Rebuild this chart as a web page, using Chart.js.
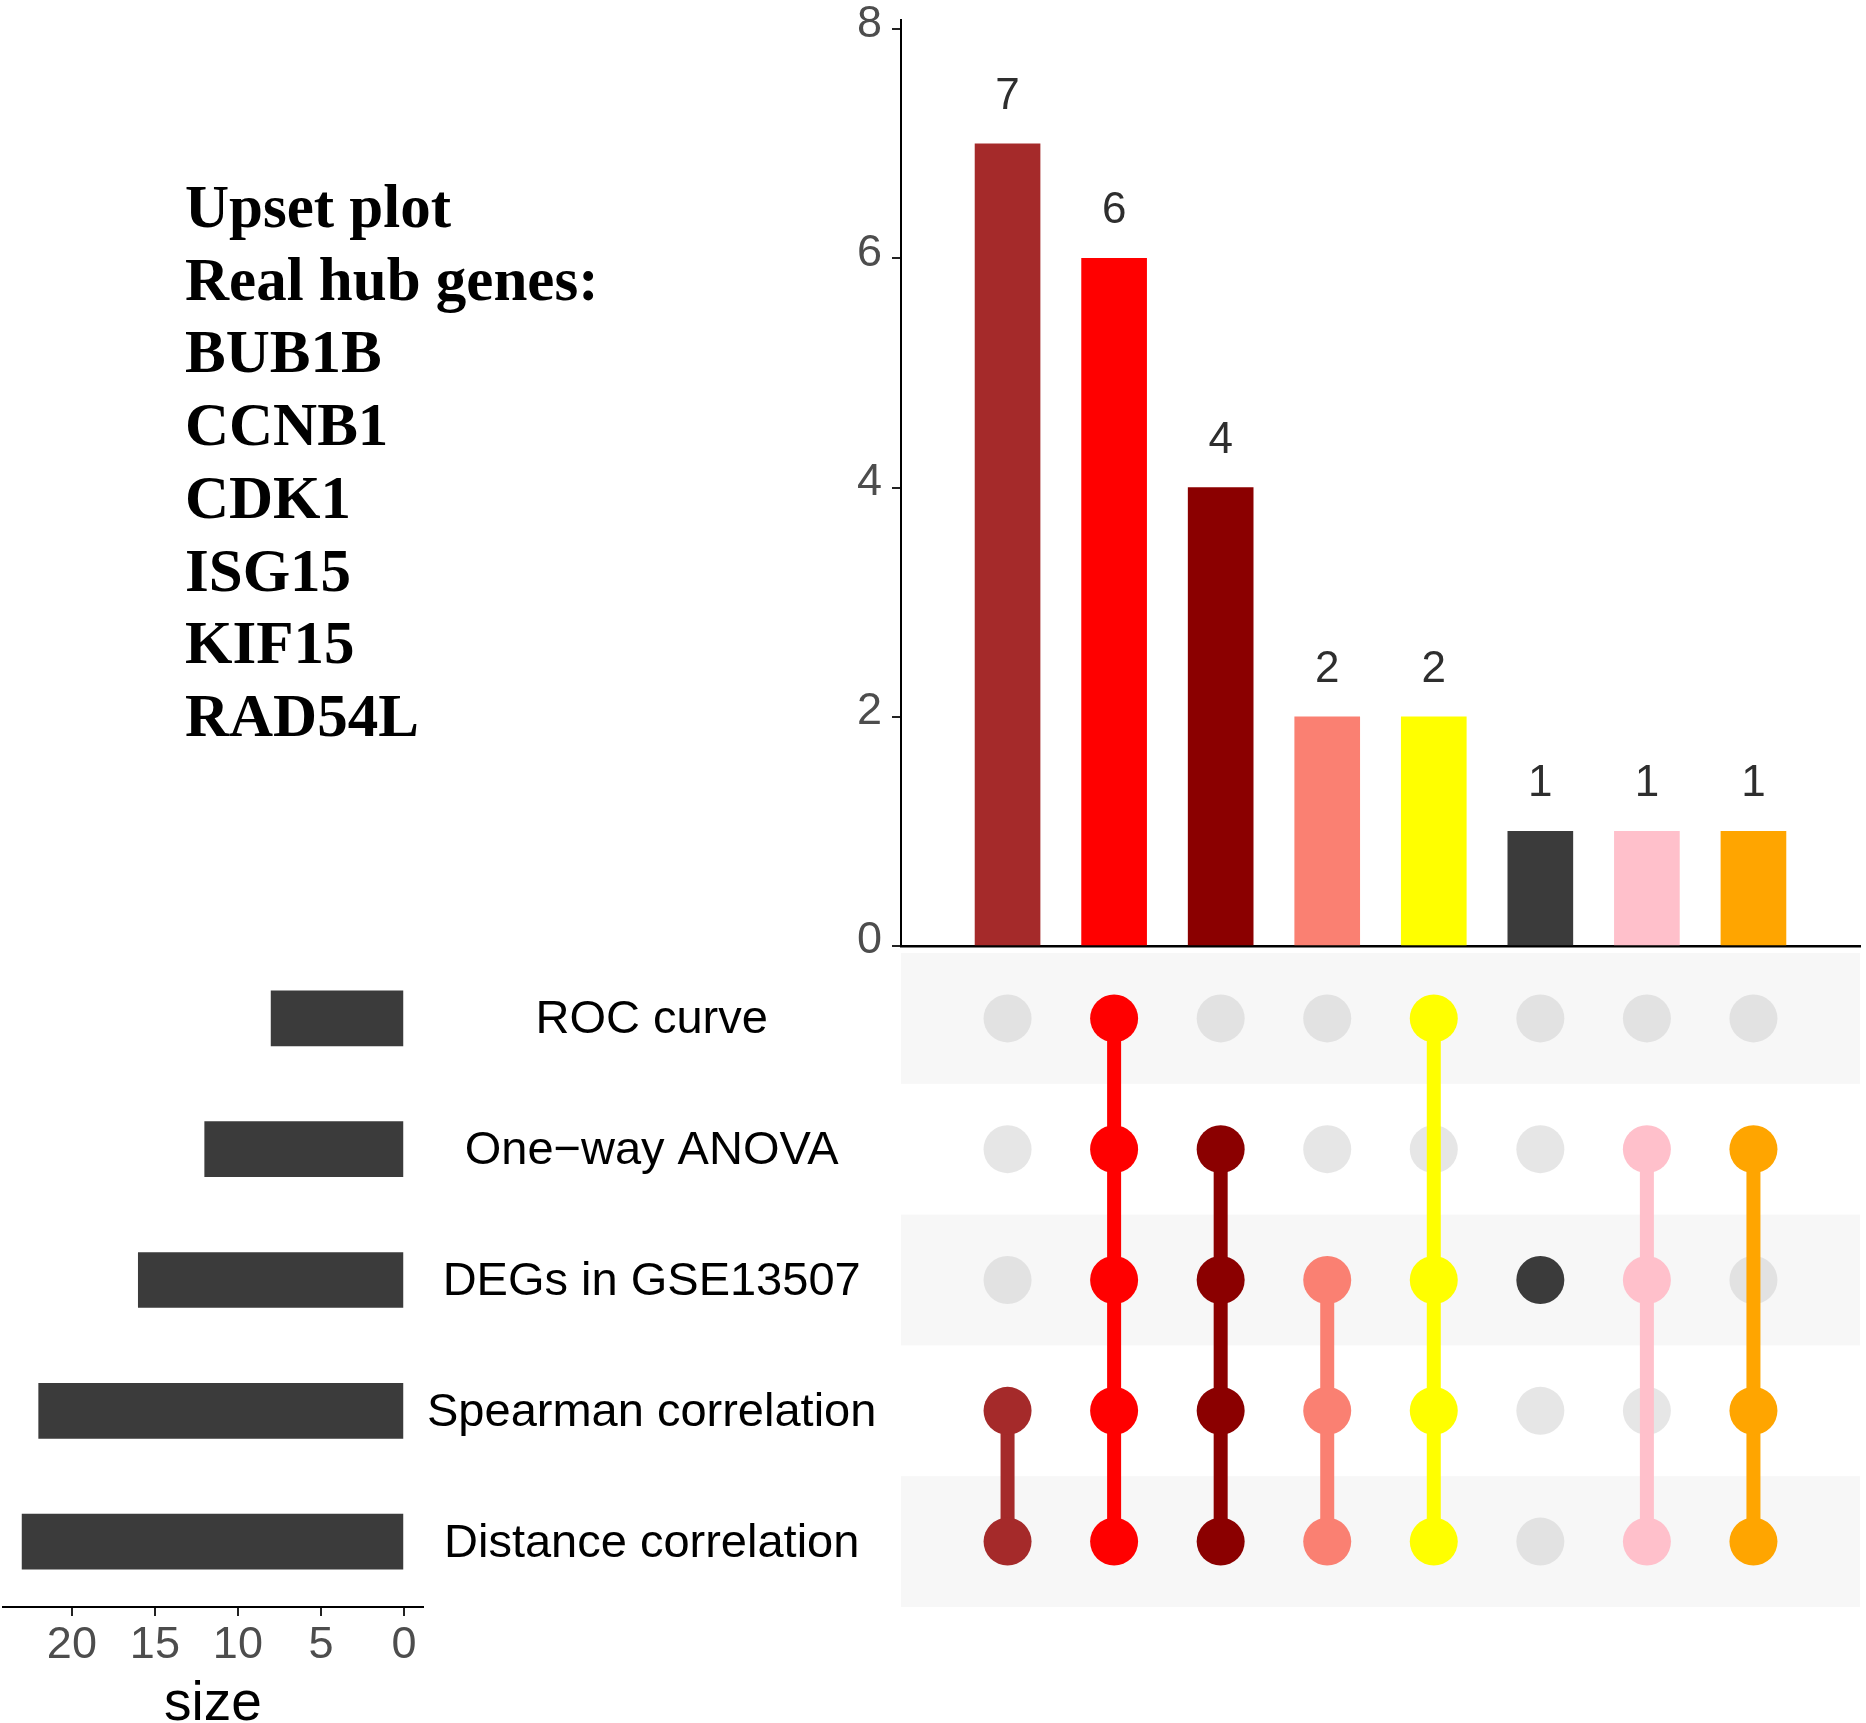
<!DOCTYPE html>
<html>
<head>
<meta charset="utf-8">
<title>Upset plot</title>
<script src="https://cdn.jsdelivr.net/npm/chart.js@4.4.1/dist/chart.umd.min.js"></script>
<style>
  html, body {
    margin: 0;
    padding: 0;
    background: #ffffff;
  }
  body {
    position: relative;
    width: 1866px;
    height: 1723px;
    overflow: hidden;
  }
  canvas {
    position: absolute;
  }
  #barChart { left: 800px; top: -17px; }
  #matrixChart { left: 800px; top: 900px; }
  #setChart { left: 0px; top: 900px; }
  #note {
    position: absolute;
    left: 185px;
    top: 171px;
    font-family: "Liberation Serif", "Times New Roman", serif;
    font-weight: bold;
    font-size: 61px;
    line-height: 72.7px;
    color: #000000;
    white-space: nowrap;
  }
</style>
</head>
<body>
<div id="note"></div>
<canvas id="setChart" width="900" height="860"></canvas>
<canvas id="matrixChart" width="1066" height="760"></canvas>
<canvas id="barChart" width="1066" height="1000"></canvas>
<script>
const setNames = ["ROC curve", "One\u2212way ANOVA", "DEGs in GSE13507", "Spearman correlation", "Distance correlation"];
const setSizes = [8, 12, 16, 22, 23];

const intersectionSizes = [7, 6, 4, 2, 2, 1, 1, 1];
const intersectionColors = ["#a52a2a", "#ff0000", "#8b0000", "#fa8072", "#ffff00", "#3b3b3b", "#ffc0cb", "#ffa500"];
// row indexes into setNames for each intersection column
const intersectionMembers = [
  [3, 4],
  [0, 1, 2, 3, 4],
  [1, 2, 3, 4],
  [2, 3, 4],
  [0, 2, 3, 4],
  [2],
  [1, 2, 4],
  [1, 3, 4]
];

const barTicks = [0, 2, 4, 6, 8];
const sizeTicks = [0, 5, 10, 15, 20];

const noteLines = ["Upset plot", "Real hub genes:", "BUB1B", "CCNB1", "CDK1", "ISG15", "KIF15", "RAD54L"];

document.getElementById("note").innerHTML = noteLines.join("<br>");

const sansFamily = "\"Liberation Sans\", Arial, \"DejaVu Sans\", sans-serif";
Chart.defaults.font.family = sansFamily;

const barValueLabels = {
  id: "barValueLabels",
  afterDatasetsDraw(chart) {
    const { ctx } = chart;
    const meta = chart.getDatasetMeta(0);
    ctx.save();
    ctx.font = "44px " + sansFamily;
    ctx.fillStyle = "#2e2e2e";
    ctx.textAlign = "center";
    ctx.textBaseline = "alphabetic";
    meta.data.forEach((bar, i) => {
      ctx.fillText(String(intersectionSizes[i]), bar.x, bar.y - 35);
    });
    ctx.restore();
  }
};

const matrixBands = {
  id: "matrixBands",
  beforeDatasetsDraw(chart) {
    const { ctx, chartArea, scales } = chart;
    ctx.save();
    ctx.fillStyle = "#f7f7f7";
    setNames.forEach((name, i) => {
      if (i % 2 !== 0) return;
      const a = scales.y.getPixelForValue(i - 0.5);
      const b = scales.y.getPixelForValue(i + 0.5);
      ctx.fillRect(chartArea.left, Math.min(a, b), chartArea.right - chartArea.left, Math.abs(b - a));
    });
    ctx.restore();
  }
};

// intersection size bars
new Chart(document.getElementById("barChart"), {
  type: "bar",
  data: {
    datasets: [
      {
        data: intersectionSizes.map((v, i) => ({ x: i + 1, y: v })),
        backgroundColor: intersectionColors,
        barThickness: 65
      }
    ]
  },
  options: {
    responsive: false,
    animation: false,
    events: [],
    layout: { autoPadding: false, padding: { left: 0, top: 36.5, right: 6, bottom: 34.3 } },
    plugins: {
      legend: { display: false },
      tooltip: { enabled: false }
    },
    scales: {
      x: {
        type: "linear",
        offset: false,
        min: 0,
        max: 9,
        afterFit(scale) {
          scale.height = 0;
        },
        grid: { offset: false, drawOnChartArea: false, drawTicks: false },
        border: { display: true, color: "#000000", width: 2.5 },
        ticks: { display: false }
      },
      y: {
        min: 0,
        max: 8.08,
        afterBuildTicks(scale) {
          scale.ticks = barTicks.map((v) => ({ value: v }));
        },
        afterFit(scale) {
          scale.width = 101;
        },
        grid: { drawOnChartArea: false, tickLength: 9, color: "#222222", lineWidth: 2 },
        border: { display: true, color: "#000000", width: 2 },
        ticks: { color: "#4d4d4d", font: { size: 45 }, padding: 10, labelOffset: -5 }
      }
    }
  },
  plugins: [barValueLabels]
});

// membership matrix
const greyDots = [];
intersectionMembers.forEach((rows, c) => {
  setNames.forEach((name, r) => {
    if (!rows.includes(r)) greyDots.push({ x: c + 1, y: r });
  });
});

const matrixDatasets = [
  {
    data: greyDots,
    pointRadius: 24,
    pointHoverRadius: 24,
    pointBackgroundColor: "rgba(205, 205, 205, 0.5)",
    pointBorderWidth: 0,
    order: 3
  }
];
intersectionMembers.forEach((rows, c) => {
  matrixDatasets.push({
    data: rows.map((r) => ({ x: c + 1, y: r })),
    showLine: true,
    borderColor: intersectionColors[c],
    borderWidth: 14,
    pointRadius: 24,
    pointHoverRadius: 24,
    pointBackgroundColor: intersectionColors[c],
    pointBorderWidth: 0,
    order: 1
  });
});

new Chart(document.getElementById("matrixChart"), {
  type: "scatter",
  data: { datasets: matrixDatasets },
  options: {
    responsive: false,
    animation: false,
    events: [],
    layout: { autoPadding: false, padding: { left: 101, top: 53, right: 6, bottom: 53 } },
    plugins: {
      legend: { display: false },
      tooltip: { enabled: false }
    },
    scales: {
      x: { type: "linear", min: 0, max: 9, display: false },
      y: { type: "linear", min: -0.5, max: 4.5, reverse: true, display: false }
    }
  },
  plugins: [matrixBands]
});

// set size bars with set names
new Chart(document.getElementById("setChart"), {
  type: "bar",
  data: {
    labels: setNames,
    datasets: [
      {
        data: setSizes,
        backgroundColor: "#3b3b3b",
        barThickness: 55
      }
    ]
  },
  options: {
    indexAxis: "y",
    responsive: false,
    animation: false,
    events: [],
    layout: { autoPadding: false, padding: { left: 3, top: 53, right: 0, bottom: 0 } },
    plugins: {
      legend: { display: false },
      tooltip: { enabled: false }
    },
    scales: {
      x: {
        type: "linear",
        reverse: true,
        min: -1.15,
        max: 24.15,
        afterBuildTicks(scale) {
          scale.ticks = sizeTicks.map((v) => ({ value: v }));
        },
        afterFit(scale) {
          scale.height = 153;
        },
        grid: { drawOnChartArea: false, tickLength: 9, color: "#222222", lineWidth: 2 },
        border: { display: true, color: "#000000", width: 2 },
        ticks: { color: "#4d4d4d", font: { size: 45 }, padding: 3, maxRotation: 0, autoSkip: false },
        title: {
          display: true,
          text: "size",
          color: "#000000",
          font: { size: 55 },
          padding: { top: 0, bottom: 22 }
        }
      },
      y: {
        position: "right",
        afterFit(scale) {
          scale.width = 477;
        },
        grid: { display: false, drawTicks: false },
        border: { display: false },
        ticks: { color: "#000000", font: { size: 47 }, crossAlign: "center", padding: 4, labelOffset: 2, autoSkip: false }
      }
    }
  }
});
</script>
</body>
</html>
